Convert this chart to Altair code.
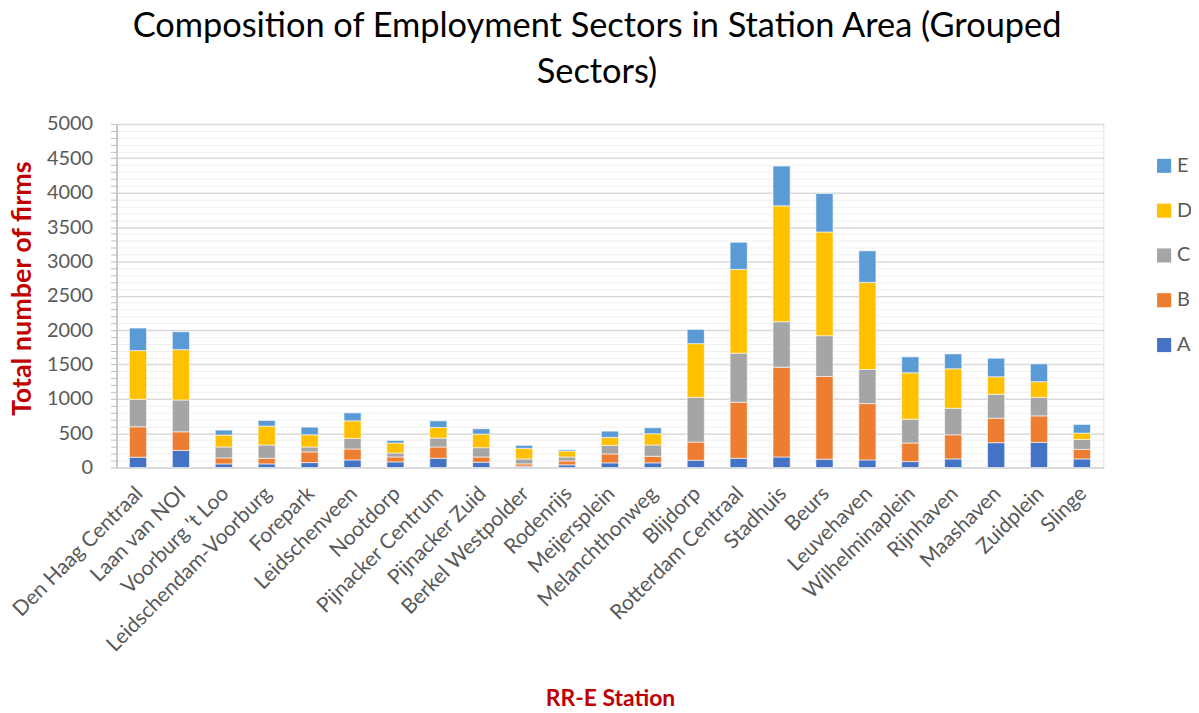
import altair as alt
import pandas as pd

stations = ["Den Haag Centraal", "Laan van NOI", "Voorburg 't Loo", "Leidschendam-Voorburg",
            "Forepark", "Leidschenveen", "Nootdorp", "Pijnacker Centrum", "Pijnacker Zuid",
            "Berkel Westpolder", "Rodenrijs", "Meijersplein", "Melanchthonweg", "Blijdorp",
            "Rotterdam Centraal", "Stadhuis", "Beurs", "Leuvehaven", "Wilhelminaplein",
            "Rijnhaven", "Maashaven", "Zuidplein", "Slinge"]
A = [150, 250, 53, 53, 72, 111, 82, 135, 77, 19, 39, 68, 68, 106, 135, 154, 121, 111, 87, 125, 362, 366, 125]
B = [443, 270, 87, 82, 155, 159, 72, 164, 77, 34, 57, 130, 96, 265, 815, 1307, 1205, 820, 270, 352, 356, 386, 140]
C = [400, 463, 159, 193, 72, 154, 58, 130, 135, 72, 58, 125, 164, 651, 714, 661, 593, 496, 347, 386, 348, 270, 145]
D = [709, 733, 174, 275, 178, 256, 145, 154, 198, 155, 87, 116, 164, 781, 1220, 1687, 1509, 1268, 675, 574, 255, 227, 91]
E = [328, 260, 72, 82, 111, 116, 38, 97, 77, 43, 19, 91, 87, 208, 395, 579, 560, 459, 232, 217, 270, 260, 126]

sectors = ["A", "B", "C", "D", "E"]
colors = {"A": "#4472C4", "B": "#ED7D31", "C": "#A5A5A5", "D": "#FFC000", "E": "#5B9BD5"}
series = {"A": A, "B": B, "C": C, "D": D, "E": E}

rows = []
for si, s in enumerate(sectors):
    for st, v in zip(stations, series[s]):
        rows.append({"station": st, "sector": s, "value": v, "ord": si})
df = pd.DataFrame(rows)

legend_order = ["E", "D", "C", "B", "A"]
font = "Lato"

chart = alt.Chart(df).mark_bar(stroke="white", strokeWidth=0.6).encode(
    x=alt.X("station:N", sort=stations,
            scale=alt.Scale(paddingInner=0.6, paddingOuter=0.3),
            axis=alt.Axis(title="RR-E Station", labelAngle=315, labelAlign="right",
                          labelBaseline="top", labelPadding=15, labelOffset=-6,
                          labelFontSize=21, labelLimit=0,
                          labelColor="#595959", labelFont=font, ticks=False,
                          domainColor="#d9d9d9", domainWidth=1.5,
                          titleFont=font, titleFontSize=23, titleFontWeight="bold",
                          titleColor="#C00000", titleY=232, titleBaseline="middle")),
    y=alt.Y("value:Q", stack="zero",
            scale=alt.Scale(domain=[0, 5000], nice=False),
            axis=alt.Axis(title="Total number of firms", values=list(range(0, 5001, 100)),
                          labelExpr="datum.value % 500 === 0 ? datum.label : ''",
                          format="d",
                          labelFontSize=20, labelColor="#595959", labelFont=font,
                          labelPadding=18, tickSize=6, tickColor="#bfbfbf",
                          domainColor="#bfbfbf", domainWidth=1.5,
                          gridColor={"condition": {"test": "datum.value % 500 === 0", "value": "#d9d9d9"}, "value": "#f0f0f0"},
                          gridWidth={"condition": {"test": "datum.value % 500 === 0", "value": 1.5}, "value": 1},
                          titleFont=font, titleFontSize=27, titleFontWeight="bold",
                          titleColor="#C00000", titleX=-94, titleY=165,
                          titleAlign="center", titleBaseline="middle", titleAngle=270)),
    color=alt.Color("sector:N",
                    scale=alt.Scale(domain=legend_order, range=[colors[s] for s in legend_order]),
                    legend=alt.Legend(title=None, orient="none", legendX=1042, legendY=32,
                                      symbolType="square", symbolSize=200, symbolStrokeWidth=0,
                                      labelFontSize=20, labelColor="#595959", labelFont=font,
                                      rowPadding=25, labelOffset=3)),
    order=alt.Order("ord:Q", sort="ascending"),
).properties(
    width=991, height=345,
    title=alt.TitleParams(["Composition of Employment Sectors in Station Area (Grouped", "Sectors)"],
                          font=font, fontSize=34.5, fontWeight="normal", color="#000000",
                          anchor="middle", frame="group", dx=-13, offset=24, lineHeight=46),
    autosize=alt.AutoSizeParams(type="none"),
    padding={"left": 109, "top": 115, "right": 88, "bottom": 242},
).configure_view(stroke=None).configure(background="white")

chart.save("out.html", embed_options={"renderer": "svg", "actions": False})
